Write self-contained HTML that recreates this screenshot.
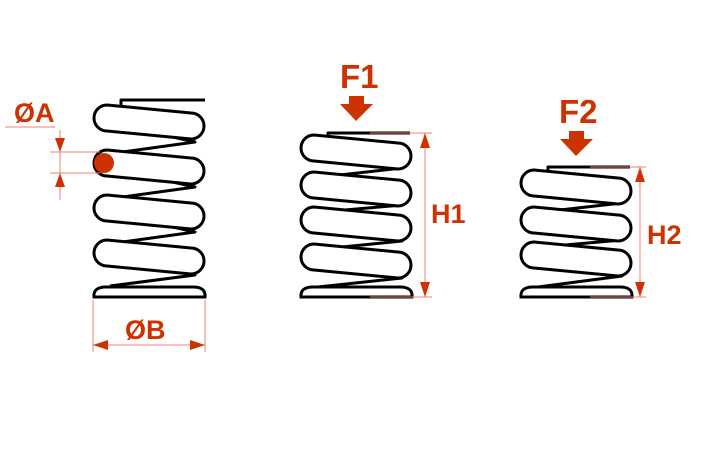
<!DOCTYPE html>
<html><head><meta charset="utf-8"><style>
html,body{margin:0;padding:0;background:#fff;width:705px;height:470px;overflow:hidden}
text{font-family:"Liberation Sans",sans-serif;font-weight:bold;fill:#cc3300}
</style></head><body>
<svg width="705" height="470" viewBox="0 0 705 470" xmlns="http://www.w3.org/2000/svg">
<defs>
<path id="band" d="M14,-13 L98,-5 A13,13 0 0 1 98,21 L14,13 A13,13 0 0 1 14,-13 Z" fill="#fff" stroke="#000" stroke-width="3" stroke-linejoin="round"/>
</defs>
<g fill="none" stroke="#000" stroke-width="3" stroke-linejoin="round">
<path d="M115,124 L195,142 L115,153 M115,169 L195,187 L115,198 M115,214 L195,232 L115,243 M115,259 L195,275 L110,286"/>
<path d="M322,154 L402,168 L322,177 M322,191 L402,205 L322,212 M322,226 L402,241 L322,249 M322,263 L402,278 L318,287"/>
<path d="M542,189 L622,203 L542,212 M542,226 L622,240 L542,247 M542,261 L622,276 L538,287"/>
<path d="M121,108 V100 H205"/>
<path d="M328,141 V133 H410"/>
<path d="M548,175 V167 H630"/>
</g>
<g>
<use href="#band" x="93" y="118"/><use href="#band" x="93" y="163"/><use href="#band" x="93" y="208"/><use href="#band" x="93" y="253"/>
<use href="#band" x="300" y="148"/><use href="#band" x="300" y="185"/><use href="#band" x="300" y="220"/><use href="#band" x="300" y="257"/>
<use href="#band" x="520" y="183"/><use href="#band" x="520" y="220"/><use href="#band" x="520" y="255"/>
</g>
<g fill="#fff" stroke="#000" stroke-width="3">
<path d="M94,297 Q93,287 106,287 L193,287 Q206,287 205,297 Z"/>
<path d="M301,297 Q300,287 313,287 L400,287 Q413,287 412,297 Z"/>
<path d="M521,297 Q520,287 533,287 L620,287 Q633,287 632,297 Z"/>
</g>
<g stroke="#f08070" stroke-width="1" fill="none">
<path d="M5,127 H55 M50,152 H100 M50,173 H100 M60,130 V200"/>
<path d="M93,300 V352 M205,300 V352 M93,345 H205"/>
<path d="M370,133 H432 M370,297 H432 M425,133 V297"/>
<path d="M590,167 H646 M590,297 H646 M640,167 V297"/>
</g>
<g fill="#cc3300">
<circle cx="104" cy="163" r="10"/>
<polygon points="55,138 65,138 60,152"/><polygon points="55,187 65,187 60,173"/>
<polygon points="93,345 108,340 108,350"/><polygon points="205,345 190,340 190,350"/>
<polygon points="425,133 420,148 430,148"/><polygon points="425,297 420,282 430,282"/>
<polygon points="640,167 635,182 645,182"/><polygon points="640,297 635,282 645,282"/>
<path d="M349,96 H364 V104 H373 L356,121 L340,104 H349 Z"/>
<path d="M569,131 H584 V139 H593 L576,156 L560,139 H569 Z"/>
</g>
<text x="14" y="122" font-size="27">ØA</text>
<text x="125" y="339" font-size="27">ØB</text>
<text x="340" y="88" font-size="33">F1</text>
<text x="559" y="123" font-size="33">F2</text>
<text x="431" y="223" font-size="27">H1</text>
<text x="647" y="244" font-size="27">H2</text>
</svg>
</body></html>
